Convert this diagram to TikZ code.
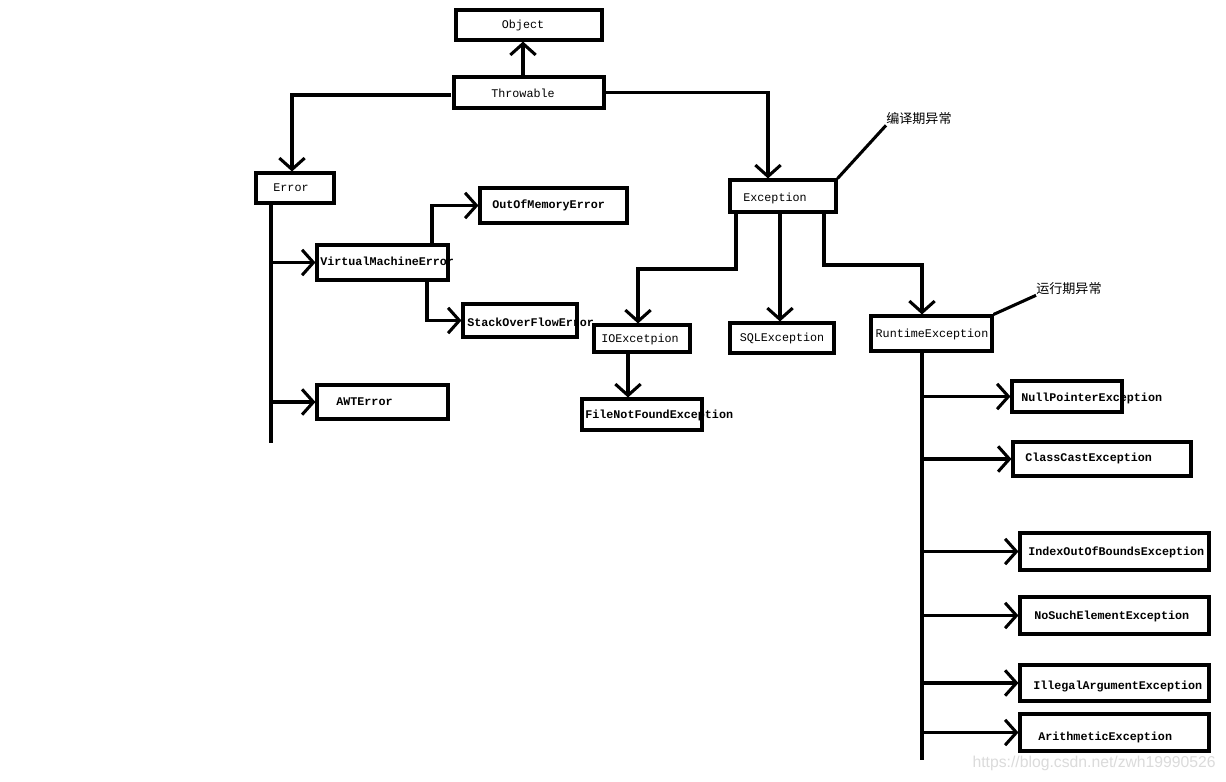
\documentclass[tikz,border=0pt]{standalone}
\usepackage{fontspec}
\setmonofont{Liberation Mono}
\newfontfamily\cjk{Noto Sans CJK SC}
\newfontfamily\wmfont{Liberation Sans}
\usetikzlibrary{arrows.meta,fit}
\begin{document}
\begin{tikzpicture}[x=0.75pt,y=-0.75pt,
 ln/.style={line width=2.3pt},
 arr/.style={ln,-{Straight Barb[length=8.5pt,width=19pt]}},
 box/.style={draw,line width=2.3pt,inner sep=0pt,rectangle},
 reg/.style={font=\ttfamily\fontsize{8.8}{10}\selectfont,inner sep=0pt},
 bld/.style={font=\ttfamily\bfseries\fontsize{8.8}{10}\selectfont,inner sep=0pt,anchor=west},
 cn/.style={font=\cjk\fontsize{9.8}{11}\selectfont,inner sep=0pt,anchor=west}]
\path[fill=white,use as bounding box] (0,0) rectangle (1226,781);
% boxes
\node[box,fit={(456,10)(602,40)}] (obj) {};
\node[box,fit={(454,77)(604,108)}] (thr) {};
\node[box,fit={(256,173)(334,203)}] (err) {};
\node[box,fit={(730,180)(836,212)}] (exc) {};
\node[box,fit={(317,245)(448,280)}] (vme) {};
\node[box,fit={(480,188)(627,223)}] (oom) {};
\node[box,fit={(463,304)(577,337)}] (sof) {};
\node[box,fit={(317,385)(448,419)}] (awt) {};
\node[box,fit={(594,325)(690,352)}] (io) {};
\node[box,fit={(582,399)(702,430)}] (fnf) {};
\node[box,fit={(730,323)(834,353)}] (sql) {};
\node[box,fit={(871,316)(992,351)}] (rt) {};
\node[box,fit={(1012,381)(1122,412)}] (npe) {};
\node[box,fit={(1013,442)(1191,476)}] (cce) {};
\node[box,fit={(1020,533)(1209,570)}] (ioob) {};
\node[box,fit={(1020,597)(1209,634)}] (nse) {};
\node[box,fit={(1020,665)(1209,701)}] (iae) {};
\node[box,fit={(1020,714)(1209,751)}] (ae) {};
% texts
\node[reg] (tobj) at (523,25) {Object};
\node[reg] (tthr) at (523,93) {Throwable};
\node[reg] (terr) at (291,188) {Error};
\node[reg] (texc) at (775,198) {Exception};
\node[reg] (tio) at (640,339) {IOExcetpion};
\node[reg] (tsql) at (782,338) {SQLException};
\node[reg] (trt) at (932,334) {RuntimeException};
\node[bld] (tvme) at (320,261) {VirtualMachineError};
\node[bld] (toom) at (492,205) {OutOfMemoryError};
\node[bld] (tsof) at (467,322) {StackOverFlowError};
\node[bld] (tawt) at (336,402) {AWTError};
\node[bld] (tfnf) at (585,415) {FileNotFoundException};
\node[bld] (tnpe) at (1021,398) {NullPointerException};
\node[bld] (tcce) at (1025,458) {ClassCastException};
\node[bld] (tioob) at (1028,552) {IndexOutOfBoundsException};
\node[bld] (tnse) at (1034,616) {NoSuchElementException};
\node[bld] (tiae) at (1033,686) {IllegalArgumentException};
\node[bld] (tae) at (1038,737) {ArithmeticException};
\node[cn] (cn1) at (886,119) {编译期异常};
\node[cn] (cn2) at (1036,289) {运行期异常};
\node[font=\wmfont\fontsize{11.8}{13}\selectfont,text=black!14,anchor=east,inner sep=0pt] (wm) at (1216,763) {https://blog.csdn.net/zwh19990526};
% helper coordinates
\coordinate (x523) at (523,0);
\coordinate (x292) at (292,0);
\coordinate (x768) at (768,0);
\coordinate (x432) at (432,0);
\coordinate (x427) at (427,0);
\coordinate (x736) at (736,0);
\coordinate (x638) at (638,0);
\coordinate (x780) at (780,0);
\coordinate (x824) at (824,0);
\coordinate (x628) at (628,0);
\coordinate (eend) at (271,443);
\coordinate (rtend) at (922,760);
\coordinate (j1) at (700,269);
\coordinate (j2) at (880,265);
\coordinate (tw) at (451,95);
% connectors
\draw[arr] (thr.north -| x523) -- (obj.south -| x523);
\draw[arr] (tw) -| (err.north -| x292);
\draw[arr] (thr.east) -| (exc.north -| x768);
\draw[ln] (exc.north east) -- (cn1.south west);
\draw[ln] (err.south -| eend) -- (eend);
\draw[arr] (vme.west -| eend) -- (vme.west);
\draw[arr] (awt.west -| eend) -- (awt.west);
\draw[arr] (vme.north -| x432) |- (oom.west);
\draw[arr] (vme.south -| x427) |- (sof.west);
\draw[arr] (exc.south -| x736) |- (j1) -| (io.north -| x638);
\draw[arr] (exc.south -| x780) -- (sql.north -| x780);
\draw[arr] (exc.south -| x824) |- (j2) -| (rt.north -| rtend);
\draw[ln] (rt.north east) -- (cn2.south west);
\draw[arr] (io.south -| x628) -- (fnf.north -| x628);
\draw[ln] (rt.south -| rtend) -- (rtend);
\draw[arr] (npe.west -| rtend) -- (npe.west);
\draw[arr] (cce.west -| rtend) -- (cce.west);
\draw[arr] (ioob.west -| rtend) -- (ioob.west);
\draw[arr] (nse.west -| rtend) -- (nse.west);
\draw[arr] (iae.west -| rtend) -- (iae.west);
\draw[arr] (ae.west -| rtend) -- (ae.west);
\end{tikzpicture}
\end{document}
